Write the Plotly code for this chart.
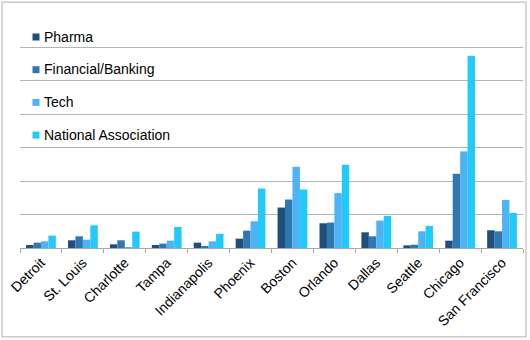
import plotly.graph_objects as go

cities = ["Detroit", "St. Louis", "Charlotte", "Tampa", "Indianapolis", "Phoenix",
          "Boston", "Orlando", "Dallas", "Seattle", "Chicago", "San Francisco"]
series_names = ["Pharma", "Financial/Banking", "Tech", "National Association"]
pharma = [0.9, 2.3, 1.1, 0.9, 1.6, 2.8, 12.1, 7.4, 4.7, 0.8, 2.2, 5.3]
financial = [1.6, 3.5, 2.3, 1.3, 0.4, 5.2, 14.5, 7.6, 3.5, 1.0, 22.2, 5.0]
tech = [2.0, 2.5, 0.3, 2.2, 2.0, 8.0, 24.3, 16.4, 8.2, 5.0, 28.9, 14.4]
national = [3.7, 6.8, 4.9, 6.3, 4.2, 17.8, 17.5, 24.9, 9.6, 6.6, 57.5, 10.5]
colors = ["#1f4f7a", "#2e77b1", "#4db3f4", "#22c9fb"]

fig = go.Figure()
for name, vals, col in zip(series_names, [pharma, financial, tech, national], colors):
    fig.add_trace(go.Bar(x=cities, y=vals, name=name, marker_color=col,
                         marker_line_width=0, showlegend=False))

# legend drawn as annotations (small squares + labels), placed in the plot's top-left
PLOT_L, PLOT_W, PLOT_B, PLOT_H = 20, 503, 248, 234
annotations = []
shapes = []
for i, (name, col) in enumerate(zip(series_names, colors)):
    py = 37 + i * 32.7
    yp = (PLOT_B - py) / PLOT_H
    shapes.append(dict(type="rect", xref="paper", yref="paper",
                       x0=(32.5 - PLOT_L) / PLOT_W, x1=(39.5 - PLOT_L) / PLOT_W,
                       y0=yp - 3.5 / PLOT_H, y1=yp + 3.5 / PLOT_H,
                       line=dict(width=0), fillcolor=col, layer="above"))
    annotations.append(dict(xref="paper", yref="paper",
                            x=(42 - PLOT_L) / PLOT_W, y=yp + 0.5 / PLOT_H,
                            xanchor="left", yanchor="middle", showarrow=False,
                            text=name, font=dict(size=14, color="black")))

shapes.append(dict(type="rect", xref="paper", yref="paper",
                   x0=-0.0358, x1=1.006, y0=-0.380, y1=1.051,
                   line=dict(color="#bdbdbd", width=1.2), layer="below"))

fig.update_layout(
    width=530, height=340,
    margin=dict(l=20, r=7, t=14, b=92),
    paper_bgcolor="white", plot_bgcolor="white",
    barmode="group", bargap=0.29, bargroupgap=0,
    showlegend=False,
    font=dict(family="Liberation Sans, Arial, sans-serif", size=14, color="black"),
    xaxis=dict(type="category", tickangle=-45, showgrid=False,
               showline=True, linecolor="#a8a8a8", linewidth=1,
               ticks="outside", tickson="boundaries", ticklen=4,
               tickcolor="#a8a8a8", tickfont=dict(size=14)),
    yaxis=dict(range=[0, 70], dtick=10, showticklabels=False,
               gridcolor="#b4b4b4", gridwidth=1, zeroline=False,
               showline=False, fixedrange=True),
    shapes=shapes,
    annotations=annotations,
)

fig.write_html("out.html")
